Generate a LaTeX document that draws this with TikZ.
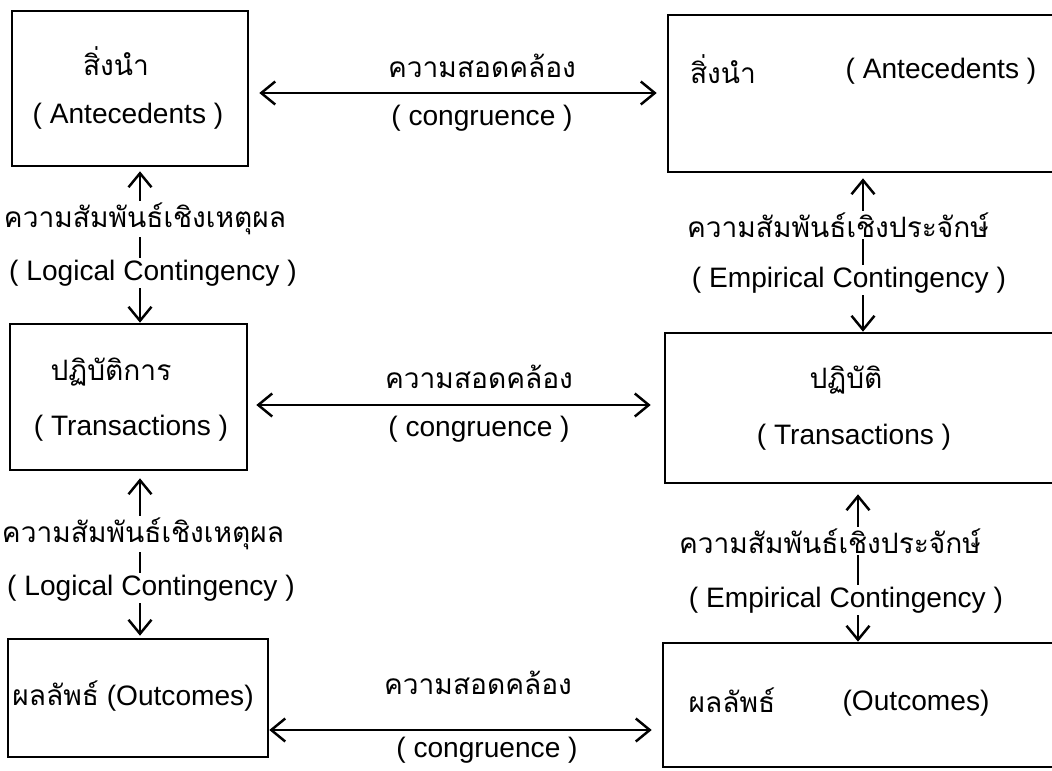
\documentclass[tikz,border=0pt]{standalone}
\usepackage{fontspec}
\setmainfont{Liberation Sans}
\newfontfamily\thai[Script=Thai]{Loma}
\usetikzlibrary{arrows.meta}

\begin{document}
\begin{tikzpicture}[x=0.02cm, y=-0.02cm,
    box/.style={rectangle, draw, line width=1.5pt},
    txt/.style={font=\fontsize{16}{19}\selectfont, inner sep=1pt},
    lbl/.style={txt, fill=white},
    link/.style={{Straight Barb[length=2.8mm,width=4.6mm]}-{Straight Barb[length=2.8mm,width=4.6mm]}, line width=1.4pt}]
    \path[use as bounding box] (0,0) rectangle (1052,771);
    \clip (0,0) rectangle (1052,771);

    % the six boxes
    \node [box, minimum width=4.72cm, minimum height=3.1cm] (ante1) at (130,88.5) {};
    \node [box, minimum width=4.74cm, minimum height=2.92cm] (trans1) at (128.5,397) {};
    \node [box, minimum width=5.2cm, minimum height=2.36cm] (out1) at (138,698) {};
    \node [box, minimum width=8.04cm, minimum height=3.14cm] (ante2) at (869,93.5) {};
    \node [box, minimum width=8.1cm, minimum height=3.0cm] (trans2) at (867.5,408) {};
    \node [box, minimum width=8.14cm, minimum height=2.48cm] (out2) at (866.5,705) {};

    \node [txt] (ante1th) at (116,61) {\thai สิ่งนำ};
    \node [txt] (ante1en) at (128,116) {( Antecedents )};
    \node [txt] (trans1th) at (111,372) {\thai ปฏิบัติการ};
    \node [txt] (trans1en) at (131,428) {( Transactions )};
    \node [txt] (out1txt) at (133,696) {{\thai ผลลัพธ์} (Outcomes)};
    \node [txt] (ante2th) at (723,69) {\thai สิ่งนำ};
    \node [txt] (ante2en) at (941,71) {( Antecedents )};
    \node [txt] (trans2th) at (846,380) {\thai ปฏิบัติ};
    \node [txt] (trans2en) at (854,437) {( Transactions )};
    \node [txt] (out2th) at (732,700) {\thai ผลลัพธ์};
    \node [txt] (out2en) at (916,703) {(Outcomes)};

    \coordinate (row1) at (0,93);
    \coordinate (row2) at (0,405);
    \coordinate (row3) at (0,730);
    \coordinate (colL) at (140,0);
    \coordinate (colR1) at (863,0);
    \coordinate (colR2) at (858,0);

    % congruence
    \draw[link, shorten <=0.2cm, shorten >=0.2cm] (ante1.east |- row1) -- (ante2.west |- row1);
    \draw[link, shorten <=0.16cm, shorten >=0.26cm] (trans1.east |- row2) -- (trans2.west |- row2);
    \draw[link, shorten >=0.2cm] (out1.east |- row3) -- (out2.west |- row3);

    % contingency
    \draw[link, shorten <=0.08cm] (ante1.south -| colL) -- (trans1.north -| colL);
    \draw[link, shorten <=0.14cm, shorten >=0.04cm] (trans1.south -| colL) -- (out1.north -| colL);
    \draw[link, shorten <=0.1cm] (ante2.south -| colR1) -- (trans2.north -| colR1);
    \draw[link, shorten <=0.2cm] (trans2.south -| colR2) -- (out2.north -| colR2);

    \node [txt] (cong1th) at (482,66) {\thai ความสอดคล้อง};
    \node [txt] (cong1en) at (482,118) {( congruence )};
    \node [txt] (cong2th) at (479,377) {\thai ความสอดคล้อง};
    \node [txt] (cong2en) at (479,429) {( congruence )};
    \node [txt] (cong3th) at (478,683) {\thai ความสอดคล้อง};
    \node [txt] (cong3en) at (487,750) {( congruence )};

    \node [lbl] (logic1th) at (145,219) {\thai ความสัมพันธ์เชิงเหตุผล};
    \node [lbl] (logic1en) at (153,273) {( Logical Contingency )};
    \node [lbl] (logic2th) at (143,534) {\thai ความสัมพันธ์เชิงเหตุผล};
    \node [lbl] (logic2en) at (151,588) {( Logical Contingency )};
    \node [lbl] (emp1th) at (838,225) {\thai ความสัมพันธ์เชิงประจักษ์};
    \node [lbl] (emp1en) at (849,280) {( Empirical Contingency )};
    \node [lbl] (emp2th) at (830,541) {\thai ความสัมพันธ์เชิงประจักษ์};
    \node [lbl] (emp2en) at (846,600) {( Empirical Contingency )};
\end{tikzpicture}
\end{document}
